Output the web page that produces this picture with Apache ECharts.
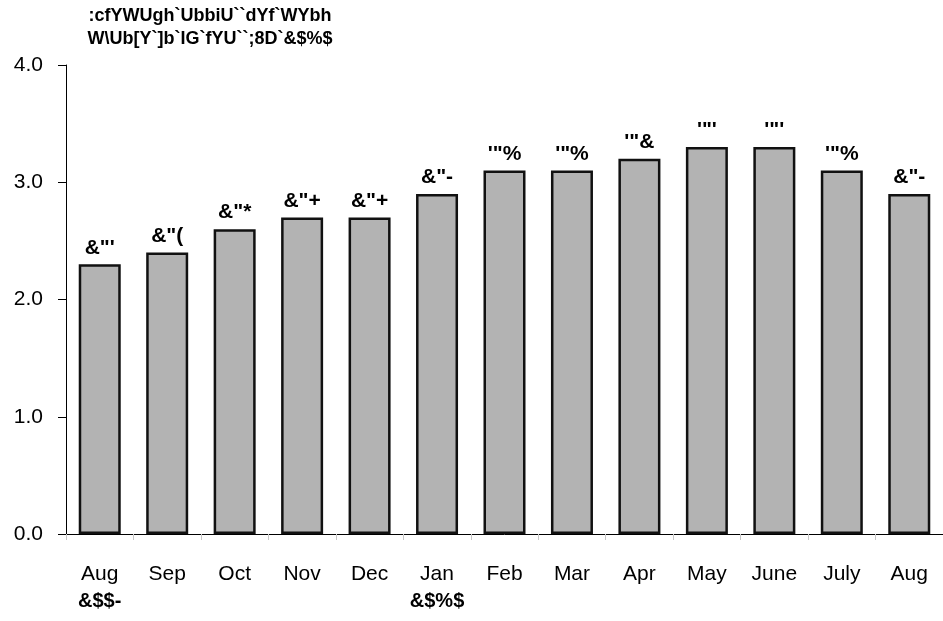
<!DOCTYPE html>
<html>
<head>
<meta charset="utf-8">
<script src="https://cdn.jsdelivr.net/npm/echarts@6/dist/echarts.min.js"></script>
<style>
  html, body { margin: 0; padding: 0; background: #fff; }
  #chart { width: 943px; height: 621px; }
</style>
</head>
<body>
<div id="chart"></div>
<script>
// data
const months = ['Aug', 'Sep', 'Oct', 'Nov', 'Dec', 'Jan', 'Feb', 'Mar', 'Apr', 'May', 'June', 'July', 'Aug']
const years = ['2009', '', '', '', '', '2010', '', '', '', '', '', '', '']
const values = [2.3, 2.4, 2.6, 2.7, 2.7, 2.9, 3.1, 3.1, 3.2, 3.3, 3.3, 3.1, 2.9]
const yTicks = [0, 1, 2, 3, 4]

// title as it shows in the picture (broken font encoding)
const titleLines = [':cfYWUgh`UbbiU``dYf`WYbh', 'W\\Ub[Y`]b`IG`fYU``;8D`&$%$']

// the source font shifts every glyph 12 code points down
function shifted(s) {
    return String(s).split('').map(c => String.fromCharCode(c.charCodeAt(0) - 12)).join('')
}

const font = '"Liberation Sans", Arial, sans-serif'
const chart = echarts.init(document.getElementById('chart'))

chart.setOption({
    animation: false,
    title: {
        text: titleLines.join('\n'),
        left: 205,
        top: 0,
        textAlign: 'center',
        textStyle: {
            fontFamily: font,
            fontWeight: 'bold',
            fontSize: 18,
            lineHeight: 23,
            color: '#000'
        }
    },
    grid: { left: 66, right: -8, top: 65, bottom: 87, containLabel: false },
    xAxis: {
        type: 'category',
        data: months,
        axisLine: { lineStyle: { color: '#000', width: 1 } },
        axisTick: { show: true, length: 6, lineStyle: { color: '#c8c8c8' } },
        axisLabel: {
            margin: 27,
            color: '#000',
            fontFamily: font,
            fontSize: 21,
            interval: 0,
            // month, then the year under it where one starts
            formatter: (v, i) => years[i] ? v + '\n{y|' + shifted(years[i]) + '}' : v,
            rich: {
                y: { fontFamily: font, fontWeight: 'bold', fontSize: 20, color: '#000', lineHeight: 27 }
            },
            lineHeight: 27,
            verticalAlign: 'top'
        }
    },
    yAxis: {
        type: 'value',
        min: yTicks[0],
        max: yTicks[yTicks.length - 1],
        interval: 1,
        axisLine: { show: true, lineStyle: { color: '#000', width: 1 } },
        axisTick: { show: true, length: 8, lineStyle: { color: '#000' } },
        splitLine: { show: false },
        axisLabel: {
            margin: 23,
            color: '#000',
            fontFamily: font,
            fontSize: 21,
            formatter: v => v.toFixed(1)
        }
    },
    series: [{
        type: 'bar',
        data: values,
        barWidth: 42,
        itemStyle: { color: '#b3b3b3', borderColor: '#111', borderWidth: 2.5 },
        label: {
            show: true,
            position: 'top',
            distance: 6,
            color: '#000',
            fontFamily: font,
            fontWeight: 'bold',
            fontSize: 21,
            formatter: p => shifted(p.value.toFixed(1))
        }
    }]
})
</script>
</body>
</html>
